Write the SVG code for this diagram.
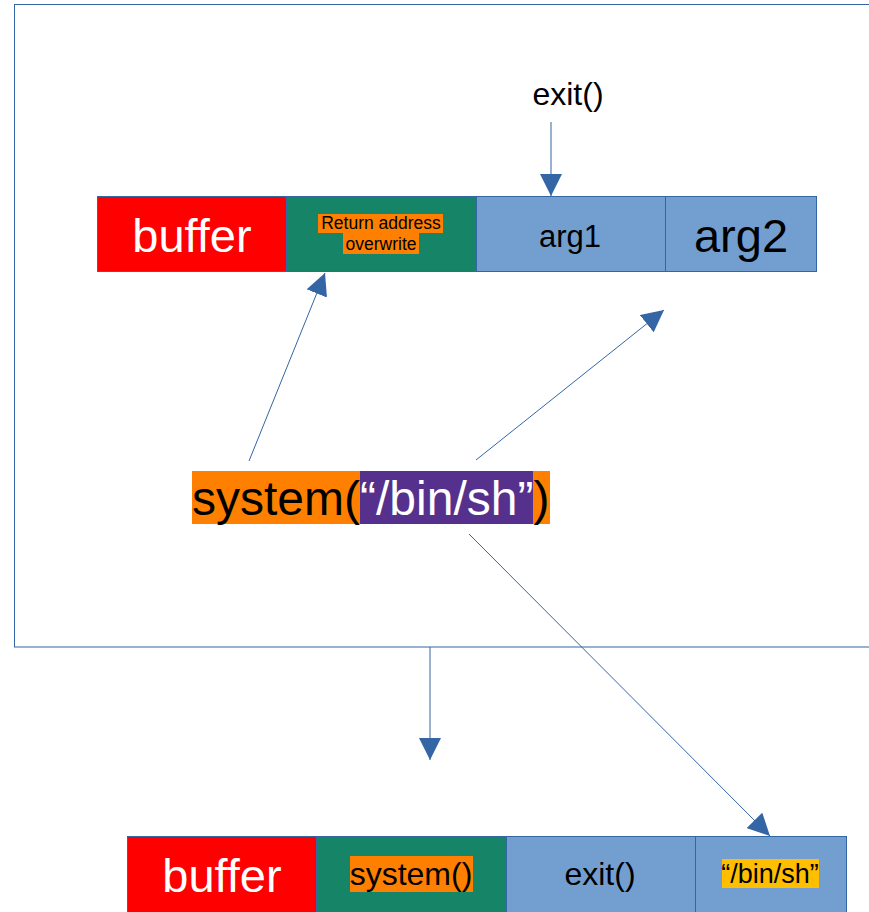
<svg xmlns="http://www.w3.org/2000/svg" width="869" height="912" viewBox="0 0 869 912">
<style>
text{font-family:"Liberation Sans",Arial,sans-serif;text-anchor:middle}
.cell{stroke:#3465a4;stroke-width:1}
.red{fill:#ff0000}.grn{fill:#168466}.blu{fill:#729fcf}
.w{fill:#ffffff}.k{fill:#000000}
.con{stroke:#3465a4;stroke-width:1;fill:none;marker-end:url(#ah)}
</style>
<defs>
<marker id="ah" markerUnits="userSpaceOnUse" markerWidth="22" markerHeight="22" refX="22" refY="11" orient="auto" viewBox="0 0 22 22">
<path d="M0,0 L22,11 L0,22 z" fill="#3465a4"/>
</marker>
</defs>
<rect id="frame" x="14.5" y="4.5" width="870" height="642.5" fill="none" stroke="#3465a4" stroke-width="1"/>
<g id="top-buffer"><rect class="cell red" x="97.5" y="196.5" width="189" height="75"/><text class="w" x="192" y="252" font-size="47">buffer</text></g>
<g id="top-ret"><rect class="cell grn" x="286.5" y="196.5" width="190" height="75"/>
<rect x="318" y="214" width="125" height="19" fill="#ff8000"/><rect x="343" y="233" width="76" height="21" fill="#ff8000"/>
<text class="k" x="381" y="229" font-size="17.5">Return address</text><text class="k" x="381" y="250" font-size="17.5">overwrite</text></g>
<g id="top-arg1"><rect class="cell blu" x="476.5" y="196.5" width="189" height="75"/><text class="k" x="570" y="247" font-size="31">arg1</text></g>
<g id="top-arg2"><rect class="cell blu" x="665.5" y="196.5" width="151" height="75"/><text class="k" x="741" y="252" font-size="47">arg2</text></g>
<g id="exit-label"><text class="k" x="568" y="105" font-size="32">exit()</text></g>
<g id="system-call">
<rect x="192" y="471" width="358" height="53" fill="#ff8000"/>
<rect x="360" y="471" width="173" height="53" fill="#56308d"/>
<text x="192" y="515" font-size="48" style="text-anchor:start"><tspan fill="#000">system(</tspan><tspan fill="#fff">“/bin/sh”</tspan><tspan fill="#000">)</tspan></text>
</g>
<g id="bot-buffer"><rect class="cell red" x="127.5" y="836.5" width="189" height="76"/><text class="w" x="222" y="892" font-size="47">buffer</text></g>
<g id="bot-system"><rect class="cell grn" x="316.5" y="836.5" width="190" height="76"/>
<rect x="350" y="856" width="123" height="36" fill="#ff8000"/><text class="k" x="411" y="885" font-size="32">system()</text></g>
<g id="bot-exit"><rect class="cell blu" x="506.5" y="836.5" width="189" height="76"/><text class="k" x="600" y="885" font-size="32">exit()</text></g>
<g id="bot-binsh"><rect class="cell blu" x="695.5" y="836.5" width="151" height="76"/>
<rect x="722" y="859" width="97" height="29" fill="#ffbf00"/><text class="k" x="770" y="883" font-size="27">“/bin/sh”</text></g>
<g id="connectors">
<line class="con" x1="551" y1="122" x2="551" y2="196"/>
<line class="con" x1="249" y1="461" x2="325" y2="273"/>
<line class="con" x1="476" y1="460" x2="664" y2="310"/>
<line class="con" x1="469" y1="534" x2="770" y2="836"/>
<line class="con" x1="430" y1="647" x2="430" y2="760"/>
</g>
</svg>
